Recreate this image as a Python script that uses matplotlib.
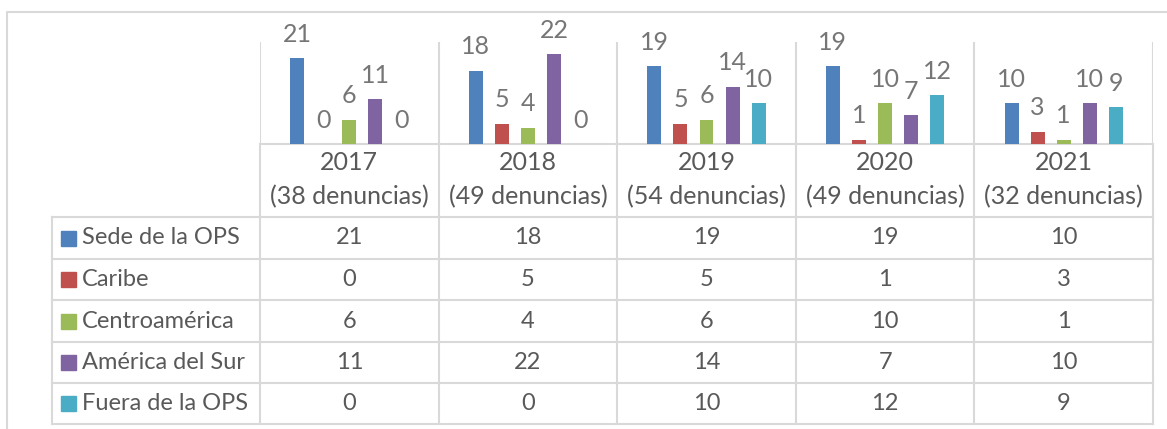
import numpy as np
import matplotlib
matplotlib.use("Agg")
import matplotlib.pyplot as plt
from matplotlib.patches import Rectangle

plt.rcParams['font.family'] = ['Lato', 'DejaVu Sans']

# data
years = ["2017", "2018", "2019", "2020", "2021"]
totals = [38, 49, 54, 49, 32]
series = ["Sede de la OPS", "Caribe", "Centroamérica", "América del Sur", "Fuera de la OPS"]
sede = [21, 18, 19, 19, 10]
caribe = [0, 5, 5, 1, 3]
centro = [6, 4, 6, 10, 1]
sur = [11, 22, 14, 7, 10]
fuera = [0, 0, 10, 12, 9]
values = [sede, caribe, centro, sur, fuera]
colors = ["#4F81BD", "#C0504D", "#9BBB59", "#8064A2", "#4BACC6"]

TXT = "#595959"
LBL = "#767676"
GRID = "#D9D9D9"
FS_TAB = 17
FS_HEAD = 18
FS_LBL = 18
W, H = 1167, 429

fig = plt.figure(figsize=(W / 100, H / 100), dpi=100)

# layout in pixels
plot_l, plot_r, plot_t, plot_b = 260, 1153, 42, 144
leg_l = 52
row_lines = [217, 259, 300, 342, 383, 424]

# overlay axes in pixel coordinates for the table
lay = fig.add_axes([0, 0, 1, 1])
lay.set_xlim(0, W)
lay.set_ylim(H, 0)
lay.axis("off")

# outer chart frame
lay.plot([7, 7, W + 5], [H + 5, 12, 12], color=GRID, lw=1.5, solid_capstyle="butt")

# bar axes
ax = fig.add_axes([plot_l / W, 1 - plot_b / H, (plot_r - plot_l) / W, (plot_b - plot_t) / H])
ax.set_xlim(-0.5, len(years) - 0.5)
ax.set_ylim(0, 25)
ax.axis("off")

x = np.arange(len(years))
slot = 0.146
bw = 0.078
for i, (vals, c) in enumerate(zip(values, colors)):
    bars = ax.bar(x + (i - 2) * slot, vals, bw, color=c, zorder=3)
    ax.bar_label(bars, padding=9, color=LBL, fontsize=FS_LBL)

for e in np.arange(len(years) + 1) - 0.5:
    ax.axvline(e, color=GRID, lw=1.5, zorder=1)

# table grid
col_edges = np.linspace(plot_l, plot_r, len(years) + 1)
col_mid = (col_edges[:-1] + col_edges[1:]) / 2
lay.plot([plot_l, plot_r], [plot_b, plot_b], color=GRID, lw=1.5)
for yl in row_lines:
    lay.plot([leg_l, plot_r], [yl, yl], color=GRID, lw=1.5)
for xe in col_edges:
    lay.plot([xe, xe], [plot_b, row_lines[-1]], color=GRID, lw=1.5)
lay.plot([leg_l, leg_l], [row_lines[0], row_lines[-1]], color=GRID, lw=1.5)

# header
for xm, yr, tot in zip(col_mid, years, totals):
    lay.text(xm, 163, yr, ha="center", va="center", color=TXT, fontsize=FS_HEAD)
    lay.text(xm, 197, f"({tot} denuncias)", ha="center", va="center", color=TXT, fontsize=FS_HEAD)

# rows
for r, (name, vals, c) in enumerate(zip(series, values, colors)):
    yc = (row_lines[r] + row_lines[r + 1]) / 2
    lay.add_patch(Rectangle((61, yc - 7.5), 15, 15, color=c))
    lay.text(82, yc, name, ha="left", va="center", color=TXT, fontsize=FS_TAB)
    for xm, v in zip(col_mid, vals):
        lay.text(xm, yc, str(v), ha="center", va="center", color=TXT, fontsize=FS_TAB)

fig.savefig("out.png", dpi=100, facecolor="white")
